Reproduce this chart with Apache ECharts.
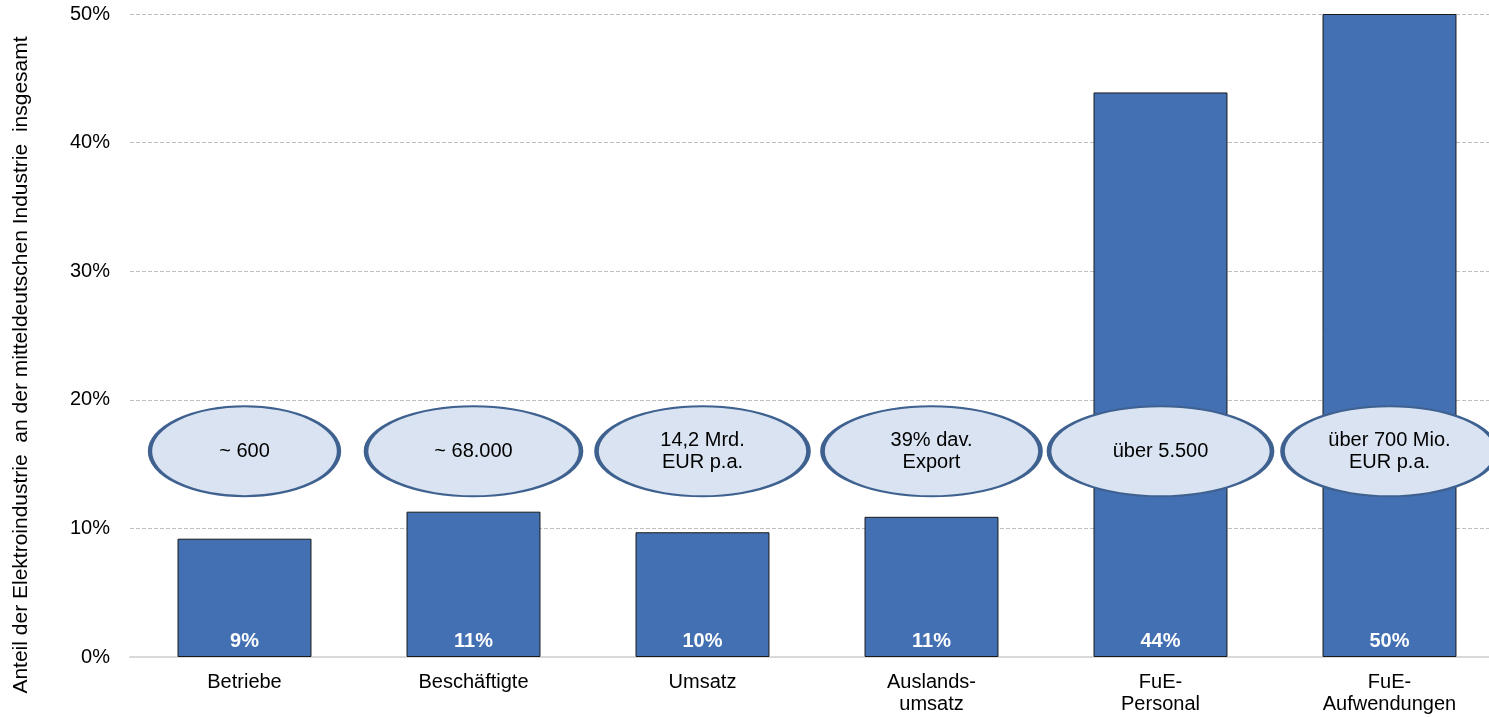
<!DOCTYPE html>
<html>
<head>
<meta charset="utf-8">
<script src="https://cdn.jsdelivr.net/npm/echarts@6/dist/echarts.min.js"></script>
<style>
html,body{margin:0;padding:0;background:#fff;overflow:hidden;}
#chart{width:1489px;height:717px;}
</style>
</head>
<body>
<div id="chart"></div>
<script>
var categories = ['Betriebe', 'Beschäftigte', 'Umsatz', 'Auslands-\numsatz', 'FuE-\nPersonal', 'FuE-\nAufwendungen'];
var shares = [9.2, 11.3, 9.7, 10.9, 43.9, 50];
var shareLabels = ['9%', '11%', '10%', '11%', '44%', '50%'];
var bubbleTexts = ['~ 600', '~ 68.000', '14,2 Mrd.\nEUR p.a.', '39% dav.\nExport', 'über 5.500', 'über 700 Mio.\nEUR p.a.'];
var bubbleLevel = [16, 16, 16, 16, 16, 16];
var yTicks = [0, 10, 20, 30, 40, 50];
var yTitle = 'Anteil der Elektroindustrie  an der mitteldeutschen Industrie  insgesamt';

var bubbleWidths = [189, 215, 212, 218, 223, 214];
var ellipsePath = 'path://M0,50 A100,50 0 1,1 200,50 A100,50 0 1,1 0,50 Z';
var FONT = 'Liberation Sans, Arial, sans-serif';

var chart = echarts.init(document.getElementById('chart'));
chart.setOption({
  animation: false,
  backgroundColor: '#ffffff',
  grid: { left: 130, top: 14, bottom: 60, right: -15, containLabel: false, outerBoundsMode: 'none' },
  xAxis: {
    type: 'category',
    data: categories,
    axisLine: { show: true, lineStyle: { color: '#D9D9D9', width: 2 } },
    axisTick: { show: false },
    axisLabel: { color: '#000', fontFamily: FONT, fontSize: 20, margin: 14, lineHeight: 22, interval: 0 }
  },
  yAxis: {
    type: 'value',
    min: 0, max: 50, interval: 10,
    axisLine: { show: false },
    axisTick: { show: false },
    axisLabel: {
      color: '#000', fontFamily: FONT, fontSize: 20, margin: 20,
      formatter: function (v) { return yTicks.indexOf(v) >= 0 ? v + '%' : ''; }
    },
    splitLine: { show: true, lineStyle: { color: '#BFBFBF', type: [4, 2], width: 1 } }
  },
  graphic: [{
    type: 'text',
    x: 21, y: 365,
    rotation: Math.PI / 2,
    style: {
      text: yTitle, fill: '#000', font: '21px ' + FONT,
      align: 'center', verticalAlign: 'middle'
    }
  }],
  series: [{
    type: 'bar',
    data: shares,
    barWidth: '58.5%',
    z: 2,
    itemStyle: { color: '#4370B3', borderColor: '#1A1A1A', borderWidth: 1 },
    label: {
      show: true, position: 'insideBottom', distance: 6,
      color: '#fff', fontWeight: 'bold', fontFamily: FONT, fontSize: 20,
      formatter: function (p) { return shareLabels[p.dataIndex]; }
    }
  }, {
    type: 'scatter',
    data: bubbleLevel.map(function (v, i) { return [i, v]; }),
    z: 5,
    symbol: ellipsePath,
    symbolKeepAspect: false,
    symbolSize: function (v, p) { return [bubbleWidths[p.dataIndex], 90]; },
    itemStyle: { color: '#D9E3F1', borderColor: '#3E6190', borderWidth: 3, opacity: 1 },
    label: {
      show: true, position: 'inside', color: '#000', fontFamily: FONT, fontSize: 20, lineHeight: 22,
      formatter: function (p) { return bubbleTexts[p.dataIndex]; }
    },
    emphasis: { disabled: true }
  }]
});
</script>
</body>
</html>
